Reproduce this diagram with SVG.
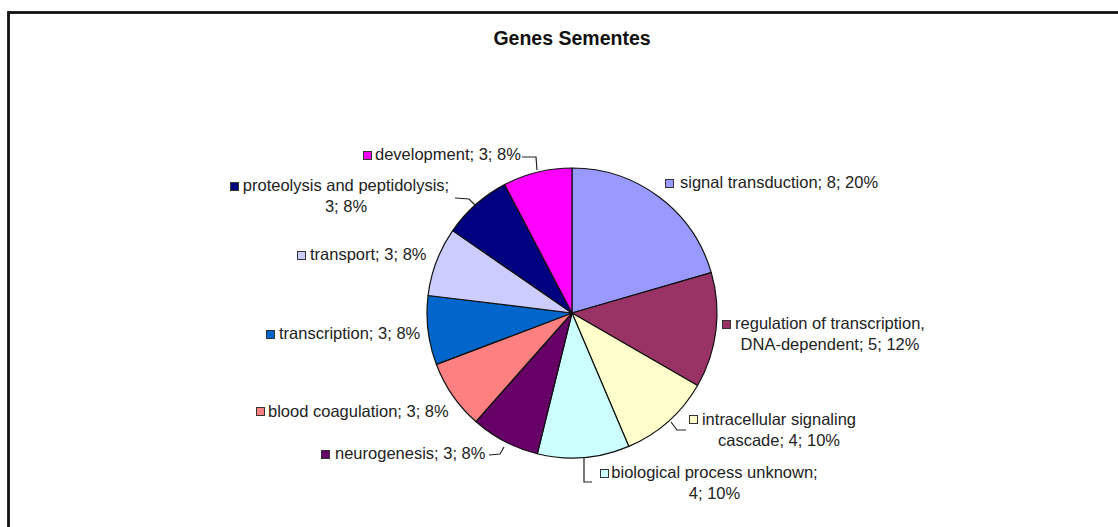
<svg xmlns="http://www.w3.org/2000/svg" width="1118" height="527" viewBox="0 0 1118 527">
  <style>
    .title { font-family: "Liberation Sans", Arial, sans-serif; font-size: 19.5px; font-weight: bold; fill: #111; }
    .lbl { font-family: "Liberation Sans", Arial, sans-serif; font-size: 16.5px; fill: #222; }
    .slice { stroke: #111; stroke-width: 1.2; stroke-linejoin: round; }
    .key { stroke: #333; stroke-width: 1; }
    .leader { fill: none; stroke: #222; stroke-width: 1.2; }
  </style>
  <rect x="0" y="0" width="1118" height="527" fill="#fff"/>
  <!-- chart frame (extends past the right and bottom edges) -->
  <rect x="8.5" y="12.5" width="1200" height="600" fill="none" stroke="#111" stroke-width="2.8"/>

  <text class="title" x="572" y="45" text-anchor="middle">Genes Sementes</text>

  <!-- pie: centre (572,313), radius 145, clockwise from 12 o'clock -->
  <g id="pie">
    <g id="slice-signal-transduction"><path class="slice" fill="#9999FF" d="M572,313 L572,168 A145,145 0 0,1 711.28,272.65 Z"/></g>
    <g id="slice-regulation"><path class="slice" fill="#993366" d="M572,313 L711.28,272.65 A145,145 0 0,1 697.57,385.5 Z"/></g>
    <g id="slice-intracellular"><path class="slice" fill="#FFFFCC" d="M572,313 L697.57,385.5 A145,145 0 0,1 628.83,446.4 Z"/></g>
    <g id="slice-unknown"><path class="slice" fill="#CCFFFF" d="M572,313 L628.83,446.4 A145,145 0 0,1 537.3,453.79 Z"/></g>
    <g id="slice-neurogenesis"><path class="slice" fill="#660066" d="M572,313 L537.3,453.79 A145,145 0 0,1 475.85,421.53 Z"/></g>
    <g id="slice-blood-coagulation"><path class="slice" fill="#FF8080" d="M572,313 L475.85,421.53 A145,145 0 0,1 436.42,364.42 Z"/></g>
    <g id="slice-transcription"><path class="slice" fill="#0066CC" d="M572,313 L436.42,364.42 A145,145 0 0,1 428.06,295.52 Z"/></g>
    <g id="slice-transport"><path class="slice" fill="#CCCCFF" d="M572,313 L428.06,295.52 A145,145 0 0,1 452.67,230.63 Z"/></g>
    <g id="slice-proteolysis"><path class="slice" fill="#000080" d="M572,313 L452.67,230.63 A145,145 0 0,1 504.62,184.61 Z"/></g>
    <g id="slice-development"><path class="slice" fill="#FF00FF" d="M572,313 L504.62,184.61 A145,145 0 0,1 572,168 Z"/></g>
  </g>

  <!-- leader lines -->
  <g id="connectors">
    <polyline class="leader" points="522,157 536,157 537,170"/>
    <polyline class="leader" points="455,198 469,199 475,205"/>
    <polyline class="leader" points="489,455 500,454 504,447"/>
    <polyline class="leader" points="584,458 584,482 592,482"/>
    <polyline class="leader" points="671,422 677,430 686,430"/>
  </g>

  <!-- data labels -->
  <g id="label-signal-transduction">
    <rect class="key" x="665.5" y="179.5" width="8" height="8" fill="#9999FF"/>
    <text class="lbl" x="680" y="188">signal transduction; 8; 20%</text>
  </g>
  <g id="label-regulation">
    <rect class="key" x="722.5" y="320.5" width="8" height="8" fill="#993366"/>
    <text class="lbl" x="830" y="329" text-anchor="middle">regulation of transcription,</text>
    <text class="lbl" x="830" y="350" text-anchor="middle">DNA-dependent; 5; 12%</text>
  </g>
  <g id="label-intracellular">
    <rect class="key" x="689.5" y="415.5" width="8" height="8" fill="#FFFFCC"/>
    <text class="lbl" x="779" y="425" text-anchor="middle">intracellular signaling</text>
    <text class="lbl" x="779" y="446" text-anchor="middle">cascade; 4; 10%</text>
  </g>
  <g id="label-unknown">
    <rect class="key" x="600.5" y="469.5" width="8" height="8" fill="#CCFFFF"/>
    <text class="lbl" x="714.5" y="478" text-anchor="middle">biological process unknown;</text>
    <text class="lbl" x="714.5" y="499" text-anchor="middle">4; 10%</text>
  </g>
  <g id="label-neurogenesis">
    <rect class="key" x="321.5" y="450.5" width="8" height="8" fill="#660066"/>
    <text class="lbl" x="335" y="459">neurogenesis; 3; 8%</text>
  </g>
  <g id="label-blood-coagulation">
    <rect class="key" x="256.5" y="407.5" width="8" height="8" fill="#FF8080"/>
    <text class="lbl" x="268" y="417">blood coagulation; 3; 8%</text>
  </g>
  <g id="label-transcription">
    <rect class="key" x="266.5" y="330.5" width="8" height="8" fill="#0066CC"/>
    <text class="lbl" x="279" y="339">transcription; 3; 8%</text>
  </g>
  <g id="label-transport">
    <rect class="key" x="297.5" y="251.5" width="8" height="8" fill="#CCCCFF"/>
    <text class="lbl" x="310" y="260">transport; 3; 8%</text>
  </g>
  <g id="label-proteolysis">
    <rect class="key" x="230.5" y="182.5" width="8" height="8" fill="#000080"/>
    <text class="lbl" x="346" y="191" text-anchor="middle">proteolysis and peptidolysis;</text>
    <text class="lbl" x="346" y="212" text-anchor="middle">3; 8%</text>
  </g>
  <g id="label-development">
    <rect class="key" x="363.5" y="151.5" width="8" height="8" fill="#FF00FF"/>
    <text class="lbl" x="375" y="160">development; 3; 8%</text>
  </g>
</svg>
